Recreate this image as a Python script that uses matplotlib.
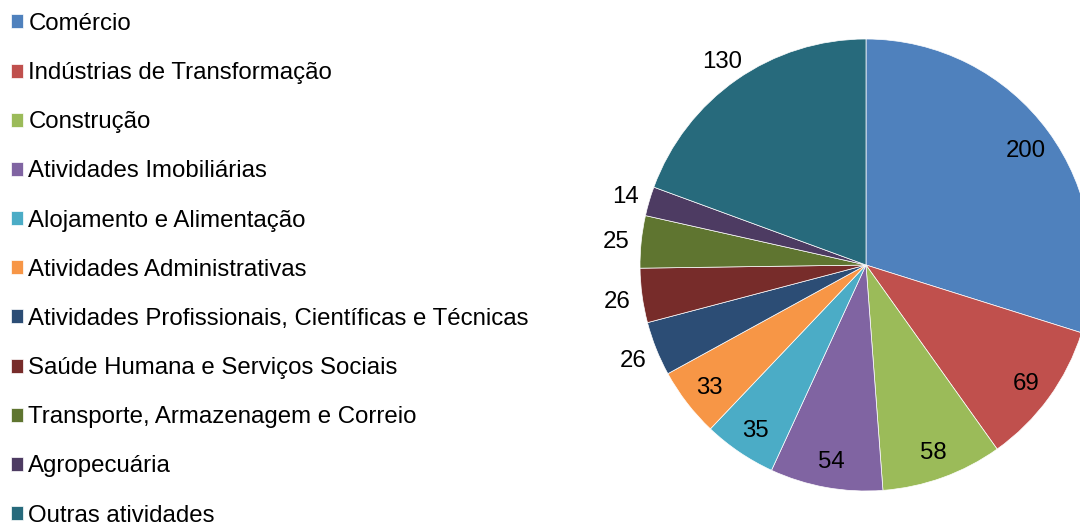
import matplotlib.pyplot as plt
import numpy as np

plt.rcParams['font.family'] = ['Liberation Sans', 'DejaVu Sans']

# Data
categories = ["Comércio", "Indústrias de Transformação", "Construção",
              "Atividades Imobiliárias", "Alojamento e Alimentação",
              "Atividades Administrativas",
              "Atividades Profissionais, Científicas e Técnicas",
              "Saúde Humana e Serviços Sociais",
              "Transporte, Armazenagem e Correio", "Agropecuária",
              "Outras atividades"]
values = [200, 69, 58, 54, 35, 33, 26, 26, 25, 14, 130]
colors = ["#4F81BD", "#C0504D", "#9BBB59", "#8064A2", "#4BACC6", "#F79646",
          "#2C4D75", "#772C2A", "#5F7530", "#4D3B62", "#276A7C"]
outside = [False, False, False, False, False, False, True, True, True, True, True]

fs = 17.3

fig = plt.figure(figsize=(10.8, 5.22), dpi=100)
ax = fig.add_axes([640 / 1080, 31 / 522, 452 / 1080, 452 / 522])

wedges, _ = ax.pie(values, colors=colors, startangle=90, counterclock=False,
                   wedgeprops=dict(edgecolor="white", linewidth=0.5))
ax.set_xlim(-1, 1)
ax.set_ylim(-1, 1)
ax.set_aspect("equal")

# value labels: small slices (and the last one) go outside, like Excel best fit
for w, v, out in zip(wedges, values, outside):
    ang = np.deg2rad((w.theta1 + w.theta2) / 2)
    r = 1.11 if out else 0.875
    ax.text(r * np.cos(ang), r * np.sin(ang), str(v), ha="center",
            va="center_baseline", fontsize=fs, color="black", clip_on=False)

fig.legend(wedges, categories, loc="upper left",
           bbox_to_anchor=(11 / 1080, 1 - 13 / 522), frameon=False,
           fontsize=fs, handlelength=0.52, handleheight=0.52,
           handletextpad=0.2, labelspacing=1.13, borderpad=0, borderaxespad=0)

plt.savefig("out.png", dpi=100)
